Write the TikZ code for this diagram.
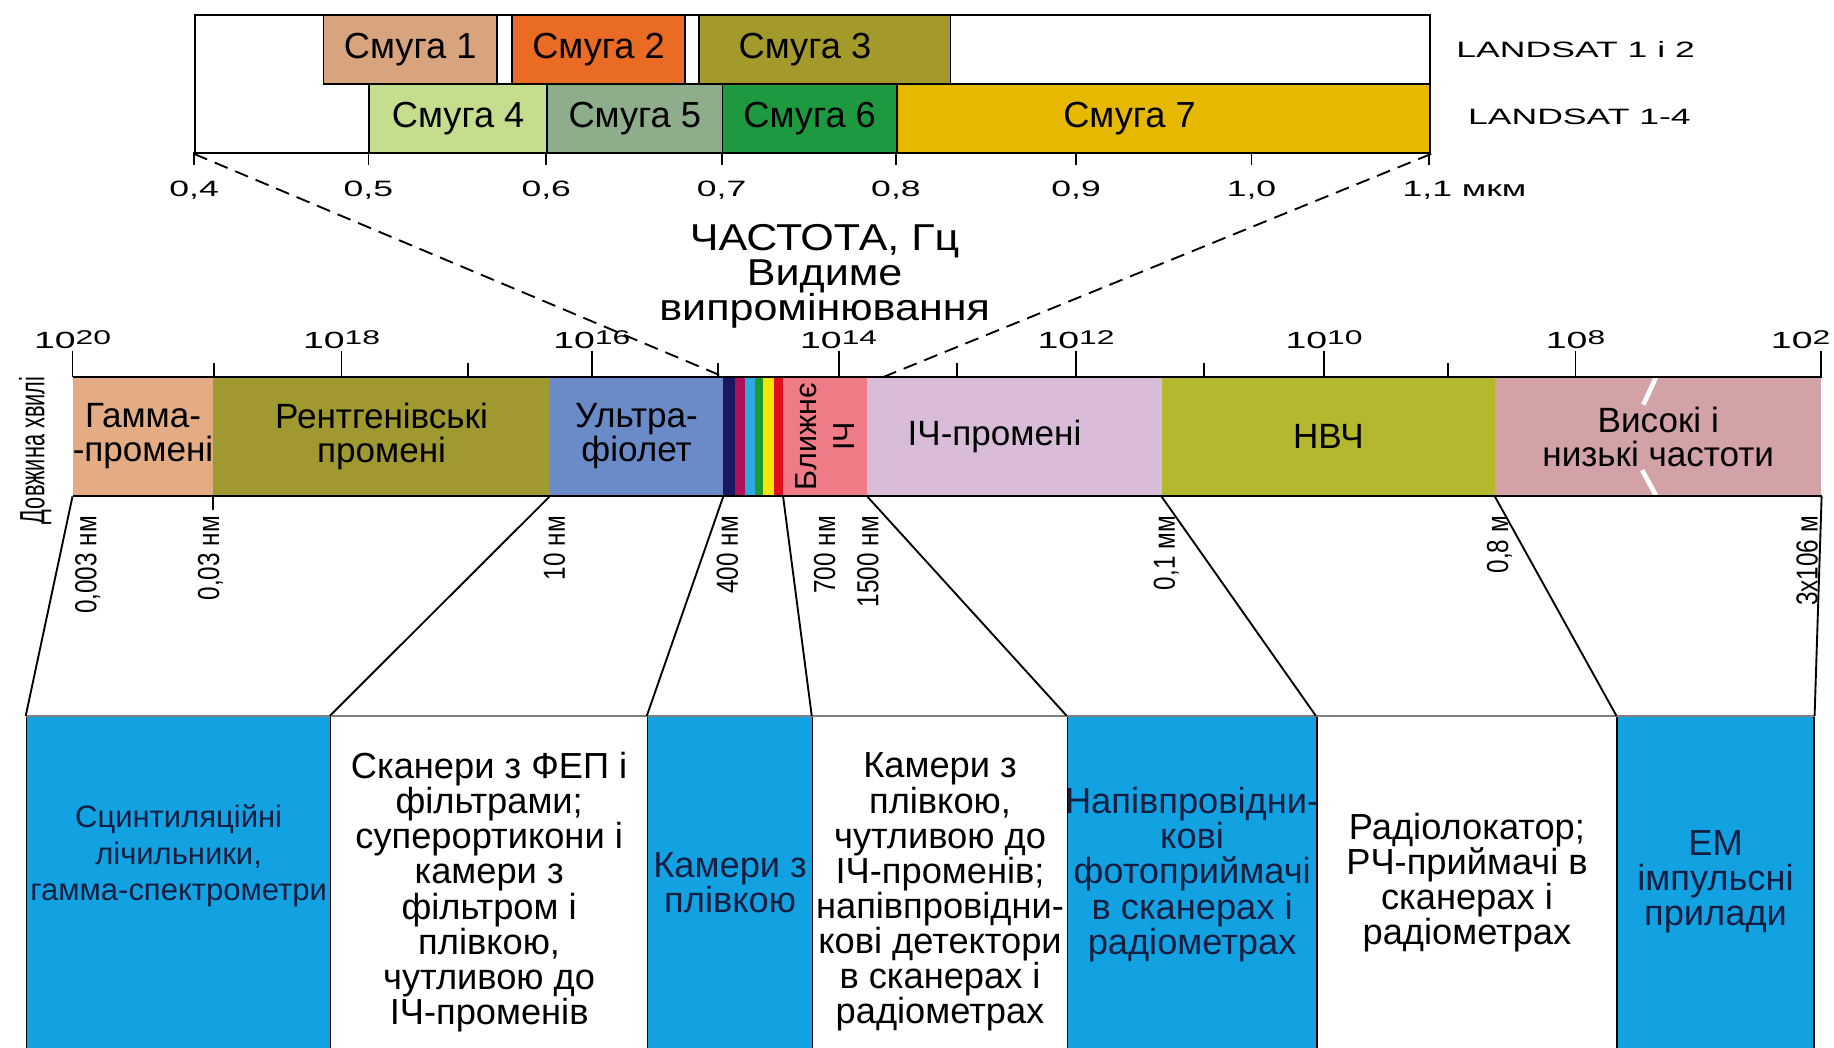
\documentclass[tikz,border=0pt]{standalone}
\usepackage{fontspec}
\setmainfont{Liberation Sans}
\newfontfamily\widefont[FakeStretch=1.6]{Liberation Sans}
\newfontfamily\headfont[FakeStretch=1.15]{Liberation Sans}
\newfontfamily\narrowfont[FakeStretch=0.62]{Liberation Sans}
\newfontfamily\slimfont[FakeStretch=0.8]{Liberation Sans}

\definecolor{bandA}{HTML}{D8A47E}
\definecolor{bandB}{HTML}{EA6B24}
\definecolor{bandC}{HTML}{A49A2C}
\definecolor{bandD}{HTML}{C5DE8E}
\definecolor{bandE}{HTML}{8EAD8A}
\definecolor{bandF}{HTML}{1D9A3F}
\definecolor{bandG}{HTML}{E6B800}
\definecolor{gammacol}{HTML}{E4AC85}
\definecolor{xraycol}{HTML}{A09930}
\definecolor{uvcol}{HTML}{6A8AC8}
\definecolor{visnavy}{HTML}{1A1860}
\definecolor{vismag}{HTML}{B0105A}
\definecolor{viscyan}{HTML}{2EA8E0}
\definecolor{visgreen}{HTML}{1E9A30}
\definecolor{visyellow}{HTML}{F5E700}
\definecolor{visred}{HTML}{E01020}
\definecolor{nircol}{HTML}{EE7B86}
\definecolor{ircol}{HTML}{D8BCD8}
\definecolor{mwcol}{HTML}{B4B82C}
\definecolor{rfcol}{HTML}{D2A2A6}
\definecolor{devblue}{HTML}{12A2E2}
\definecolor{devink}{HTML}{141E40}

\newcommand{\tpow}[1]{10\raisebox{0.3ex}{\fontsize{17}{17}\selectfont #1}}

\begin{document}
\begin{tikzpicture}[x=1pt,y=-1pt]
\tikzstyle{every node}+=[inner sep=0pt]
\tikzstyle{band}=[draw, line width=1.4pt, minimum height=59pt, anchor=north west, font=\fontsize{31}{31}\selectfont]
\tikzstyle{seg}=[minimum height=102pt, anchor=north west, align=center, font=\fontsize{30}{29}\selectfont]
\tikzstyle{dev}=[draw, line width=1.4pt, minimum height=290pt, anchor=north west]
\tikzstyle{devtxt}=[align=center, font=\fontsize{31}{30}\selectfont]
\tikzstyle{wl}=[rotate=90, anchor=east, font=\slimfont\fontsize{26}{26}\selectfont]
\tikzstyle{freq}=[font=\widefont\fontsize{20}{20}\selectfont]
\tikzstyle{link}=[line width=1.6pt]
\useasboundingbox (0,0) rectangle (1568,896);

\node [draw, line width=1.6pt, minimum width=1056pt, minimum height=118pt, anchor=north west] (landsat) at (166,12) {};
\node [band, fill=bandA, minimum width=148pt] (s1) at (276,12) {Смуга 1};
\node [band, fill=bandB, minimum width=148pt] (s2) at (437,12) {Смуга 2};
\node [band, fill=bandC, minimum width=215pt, label={[font=\fontsize{31}{31}\selectfont, xshift=-17pt]center:Смуга 3}] (s3) at (597,12) {};
\node [band, fill=bandD, minimum width=152pt] (s4) at (315,71) {Смуга 4};
\node [band, fill=bandE, minimum width=150pt] (s5) at (467,71) {Смуга 5};
\node [band, fill=bandF, minimum width=149pt] (s6) at (617,71) {Смуга 6};
\node [band, fill=bandG, minimum width=456pt, label={[font=\fontsize{31}{31}\selectfont, xshift=-29pt]center:Смуга 7}] (s7) at (766,71) {};
\node [anchor=west, font=\widefont\fontsize{19}{19}\selectfont] (ls12) at (1245,42) {LANDSAT 1 і 2};
\node [anchor=west, font=\widefont\fontsize{19}{19}\selectfont] (ls14) at (1255,100) {LANDSAT 1-4};
\foreach \x/\t in {166/{0,4},315/{0,5},467/{0,6},617/{0,7},766/{0,8},920/{0,9},1070/{1,0}} {
  \draw [link] (\x,130) -- (\x,141);
  \node [anchor=base, font=\widefont\fontsize{19}{19}\selectfont] (mu\x) at (\x,168) {\t};
}
\draw [link] (1222,130) -- (1222,141);
\node [anchor=base west, font=\widefont\fontsize{19}{19}\selectfont] (mu1222) at (1199,168) {1,1 мкм};

\node [align=center, font=\headfont\fontsize{32}{30}\selectfont] (title) at (705,236) {ЧАСТОТА, Гц\\Видиме\\випромінювання};

\node [seg, fill=gammacol, minimum width=120pt] (gamma) at (62,322) {Гамма-\\-промені};
\node [seg, fill=xraycol, minimum width=288pt] (xray) at (182,322) {Рентгенівські\\промені};
\node [seg, fill=uvcol, minimum width=148pt] (uv) at (470,322) {Ультра-\\фіолет};
\foreach \a/\b/\c in {618/628.5/visnavy,628.5/637/vismag,637/645.5/viscyan,645.5/652.5/visgreen,652.5/661.5/visyellow,661.5/669.5/visred}
  \fill [\c] (\a,322) rectangle (\b,424);
\node [seg, fill=nircol, minimum width=71.5pt] (nir) at (669.5,322) {};
\node [rotate=90, align=center, font=\fontsize{26}{32}\selectfont] (nirtext) at (nir.center) {Ближнє\\ІЧ};
\node [seg, fill=ircol, minimum width=252pt, label={[font=\fontsize{30}{29}\selectfont, xshift=-17pt]center:ІЧ-промені}] (ir) at (741,322) {};
\node [seg, fill=mwcol, minimum width=285pt] (mw) at (993,322) {НВЧ};
\node [seg, fill=rfcol, minimum width=279pt] (rf) at (1278,322) {Високі і\\низькі частоти};
\draw [white, line width=4pt] (1416,322) -- (1405,346);
\draw [white, line width=4pt] (1404,402) -- (1416,424);
\draw [link] (gamma.north west) -- (rf.north east);
\draw [link] (gamma.south west) -- (rf.south east);
\coordinate (nirtop) at (756,322);

\foreach \x in {62,292,506,717,920,1132,1347,1557}
  \draw [link] (\x,322) -- (\x,300);
\foreach \x in {183,400,614,818,1029,1238}
  \draw [link] (\x,322) -- (\x,310);
\foreach \x/\p in {62/20,292/18,506/16,717/14,920/12,1132/10,1347/8}
  \node [freq, anchor=base] (f\p) at (\x,298) {\tpow{\p}};
\node [freq, anchor=base east] (f2) at (1565,298) {\tpow{2}};

\draw [link, dash pattern=on 12pt off 7pt] (landsat.south west) -- (uv.north east);
\draw [link, dash pattern=on 12pt off 7pt] (landsat.south east) -- (nirtop);

\node [rotate=90, font=\narrowfont\fontsize{30}{30}\selectfont] (axis) at (30,385) {Довжина хвилі};
\draw [link] (xray.south west) -- ++(0,12);
\foreach \x/\t in {75/{0,003 нм},180/{0,03 нм},474/{10 нм},622/{400 нм},705/{700 нм},742/{1500 нм},997/{0,1 мм},1282/{0,8 м},1545/{3x106 м}}
  \node [wl] (w\x) at (\x,441) {\t};

\node [dev, fill=devblue, minimum width=260pt] (b1) at (22,612) {};
\node [dev, fill=white, minimum width=271pt] (b2) at (282,612) {};
\node [dev, fill=devblue, minimum width=141pt] (b3) at (553,612) {};
\node [dev, fill=white, minimum width=218pt] (b4) at (694,612) {};
\node [dev, fill=devblue, minimum width=213pt] (b5) at (912,612) {};
\node [dev, fill=white, minimum width=257pt] (b6) at (1125,612) {};
\node [dev, fill=devblue, minimum width=168pt] (b7) at (1382,612) {};
\draw [gray, line width=1.6pt] (b1.north west) -- (b7.north east);

\node [devtxt, text=devink, font=\fontsize{26.5}{31.5}\selectfont] (t1) at ([yshift=26pt]b1.center) {Сцинтиляційні\\лічильники,\\гамма-спектрометри};
\node [devtxt] (t2) at ([yshift=-5pt]b2.center) {Сканери з ФЕП і\\фільтрами;\\суперортикони і\\камери з\\фільтром і\\плівкою,\\чутливою до\\ІЧ-променів};
\node [devtxt, text=devink] (t3) at ([yshift=3pt]b3.center) {Камери з\\плівкою};
\node [devtxt] (t4) at ([yshift=-5pt]b4.center) {Камери з\\плівкою,\\чутливою до\\ІЧ-променів;\\напівпровідни-\\кові детектори\\в сканерах і\\радіометрах};
\node [devtxt, text=devink] (t5) at ([yshift=10pt]b5.center) {Напівпровідни-\\кові\\фотоприймачі\\в сканерах і\\радіометрах};
\node [devtxt] (t6) at ([yshift=3pt]b6.center) {Радіолокатор;\\РЧ-приймачі в\\сканерах і\\радіометрах};
\node [devtxt, text=devink] (t7) at ([yshift=4pt]b7.center) {ЕМ\\імпульсні\\прилади};

\draw [link] (gamma.south west) -- (b1.north west);
\draw [link] (uv.south west) -- (b2.north west);
\draw [link] (uv.south east) -- (b3.north west);
\draw [link] (nir.south west) -- (b4.north west);
\draw [link] (nir.south east) -- (b5.north west);
\draw [link] (mw.south west) -- (b6.north west);
\draw [link] (rf.south west) -- (b7.north west);
\draw [link] (rf.south east) -- (b7.north east);
\end{tikzpicture}
\end{document}
